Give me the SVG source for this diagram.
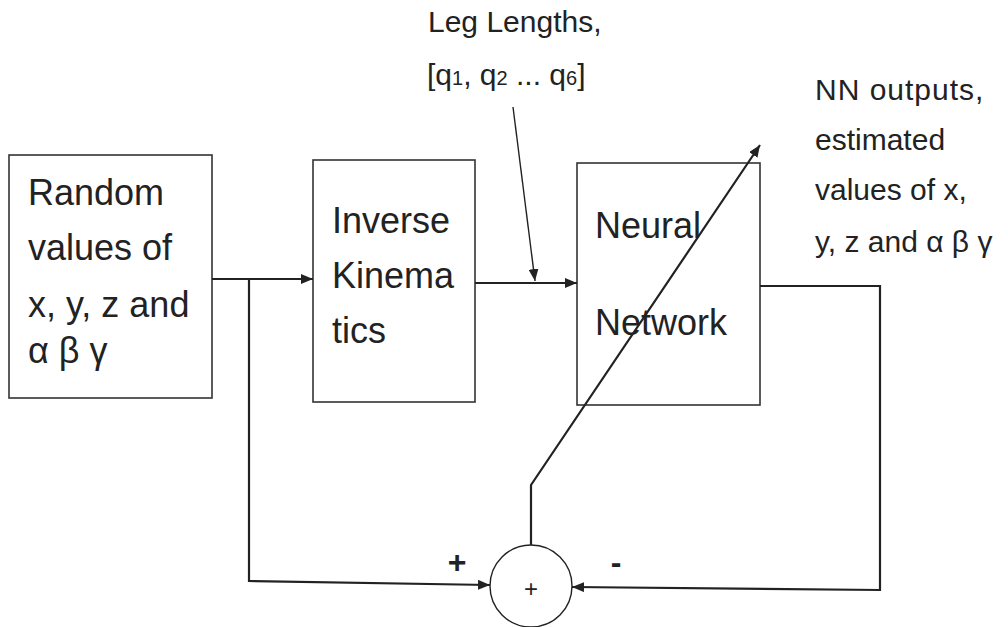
<svg xmlns="http://www.w3.org/2000/svg" width="1008" height="627" viewBox="0 0 1008 627">
<defs>
<style>
.box{fill:#fff;stroke:#333;stroke-width:1.6}
.ln{fill:none;stroke:#222;stroke-width:2.2}
.thin{fill:none;stroke:#222;stroke-width:1.4}
.t{font-family:"Liberation Sans",Arial,sans-serif;fill:#222}
.big{font-size:36px}
.mid{font-size:30px}
</style>
<marker id="ah" viewBox="0 0 12 10" refX="12" refY="5" markerWidth="12" markerHeight="10" markerUnits="userSpaceOnUse" orient="auto">
<path d="M0,0 L12,5 L0,10 z" fill="#222"/>
</marker>
</defs>
<rect width="1008" height="627" fill="#fff"/>
<g id="random">
<rect class="box" x="9" y="155" width="203" height="243"/>
<text class="t big" x="28" y="205">Random</text>
<text class="t big" x="28" y="260">values of</text>
<text class="t big" x="28" y="317">x, y, z and</text>
<text class="t big" x="28" y="363">α β γ</text>
</g>
<g id="ik">
<rect class="box" x="313" y="160" width="162" height="242"/>
<text class="t big" x="332" y="233">Inverse</text>
<text class="t big" x="332" y="288">Kinema</text>
<text class="t big" x="332" y="343">tics</text>
</g>
<g id="nn">
<rect class="box" x="577" y="163" width="183" height="242"/>
<text class="t big" x="595" y="238">Neural</text>
<text class="t big" x="595" y="335">Network</text>
</g>
<g id="sum">
<ellipse cx="531" cy="586" rx="41" ry="41" fill="#fff" stroke="#222" stroke-width="1.4"/>
<text class="t" x="531" y="597" font-size="24" text-anchor="middle">+</text>
</g>
<g id="labels">
<text class="t mid" x="428" y="32">Leg Lengths,</text>
<text class="t mid" x="427" y="85">[q<tspan font-size="20">1</tspan>, q<tspan font-size="20">2</tspan> ... q<tspan font-size="20">6</tspan>]</text>
<text class="t mid" x="815" y="100" letter-spacing="1">NN outputs,</text>
<text class="t mid" x="815" y="150">estimated</text>
<text class="t mid" x="815" y="200">values of x,</text>
<text class="t mid" x="815" y="252">y, z and α β γ</text>
<text class="t" x="457" y="573" font-size="32" font-weight="bold" text-anchor="middle">+</text>
<text class="t" x="616" y="573" font-size="32" font-weight="bold" text-anchor="middle">-</text>
</g>
<g id="connectors">
<path class="ln" d="M212,279 L313,279" marker-end="url(#ah)"/>
<path class="ln" d="M249,279 L249,581 L490,585" marker-end="url(#ah)"/>
<path class="ln" d="M475,283 L577,283" marker-end="url(#ah)"/>
<path class="thin" d="M513,107 L535,281" marker-end="url(#ah)"/>
<path class="ln" d="M531,545 L531,485 L760,145" marker-end="url(#ah)"/>
<path class="ln" d="M760,286 L880,286 L880,590 L572,587" marker-end="url(#ah)"/>
</g>
</svg>
